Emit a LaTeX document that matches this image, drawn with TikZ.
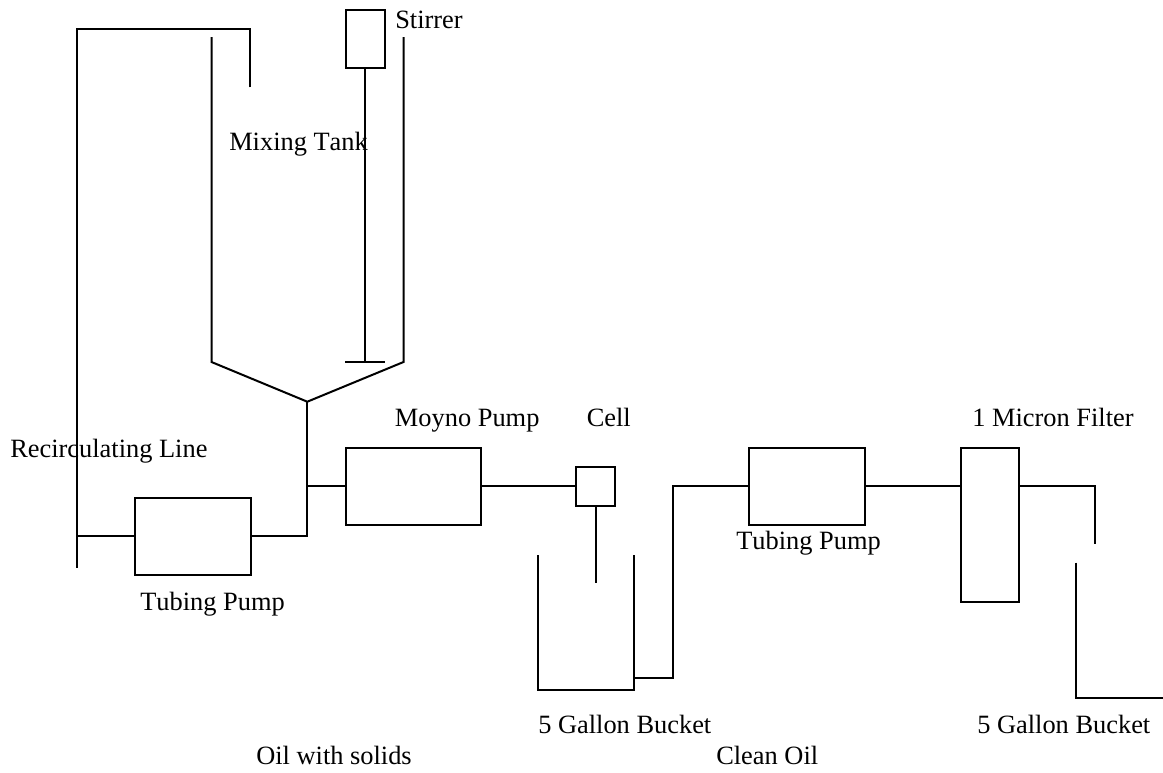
\documentclass[tikz,border=0pt]{standalone}
\usepackage{fontspec}
\setmainfont[Kerning=Off]{Liberation Serif}
\tikzset{
  pipe/.style={draw=black,line width=1.5pt,line join=miter},
  unit/.style={draw=black,line width=1.5pt,inner sep=0pt,outer sep=0pt},
  lbl/.style={font=\fontsize{19.8}{22}\selectfont,inner sep=0pt,text=black,anchor=base west}
}
\begin{document}
% coordinates are reference pixels, y measured from the top
\begin{tikzpicture}[x=0.75pt,y=-0.75pt]
\useasboundingbox (0,0) rectangle (1163,772);
% units
\node[unit,minimum width=29.5pt,minimum height=43.7pt] (motor) at (365.3,39.2) {};
\node[unit,minimum width=87pt,minimum height=57.75pt] (tp1) at (192.6,536.3) {};
\node[unit,minimum width=101.6pt,minimum height=57.75pt] (moyno) at (413.5,486.4) {};
\node[unit,minimum width=29pt,minimum height=29pt] (cell) at (595.6,486.4) {};
\node[unit,minimum width=87pt,minimum height=57.75pt] (tp2) at (807.2,486.4) {};
\node[unit,minimum width=43.5pt,minimum height=115.3pt] (filter) at (989.5,525) {};
% free ends and corners
\coordinate (tankL) at (211.5,37);
\coordinate (tankLb) at (211.5,362);
\coordinate (tankR) at (403.5,37);
\coordinate (tankRb) at (403.5,362);
\coordinate (apex) at (307.3,401.7);
\coordinate (junca) at (307.3,536.3);
\coordinate (juncb) at (307.3,486.4);
\coordinate (shaftEnd) at (365.3,362);
\coordinate (barL) at (345,362);
\coordinate (barR) at (385,362);
\coordinate (rT) at (250,87.3);
\coordinate (rTop) at (250,29.3);
\coordinate (lTop) at (77.3,29.3);
\coordinate (lBot) at (77.3,567.5);
\coordinate (lMid) at (77.3,536.3);
\coordinate (cellEnd) at (595.6,582.5);
\coordinate (bTL) at (538.4,555);
\coordinate (bBL) at (538.4,690);
\coordinate (bBR) at (634.3,690);
\coordinate (bTR) at (634.3,555);
\coordinate (oa) at (634.3,678.3);
\coordinate (ob) at (672.6,678.3);
\coordinate (oc) at (672.6,486.4);
\coordinate (fa) at (1095,486.4);
\coordinate (fb) at (1095,544);
\coordinate (sa) at (1075.7,562.7);
\coordinate (sb) at (1075.7,697.7);
\coordinate (sc) at (1163,697.7);
% tank
\draw[pipe] (tankL) -- (tankLb) -- (apex) -- (tankRb) -- (tankR);
\draw[pipe] (motor.south) -- (shaftEnd);
\draw[pipe] (barL) -- (barR);
% recirculating line
\draw[pipe] (rT) -- (rTop) -- (lTop) -- (lBot);
\draw[pipe] (lMid) -- (tp1.west);
\draw[pipe] (tp1.east) -- (junca) -- (apex);
\draw[pipe] (juncb) -- (moyno.west);
\draw[pipe] (moyno.east) -- (cell.west);
\draw[pipe] (cell.south) -- (cellEnd);
% bucket
\draw[pipe] (bTL) -- (bBL) -- (bBR) -- (bTR);
\draw[pipe] (oa) -- (ob) -- (oc) -- (tp2.west);
\draw[pipe] (tp2.east) -- (filter.west |- tp2.east);
\draw[pipe] (filter.east |- fa) -- (fa) -- (fb);
\draw[pipe] (sa) -- (sb) -- (sc);
% labels
\node[lbl] (t1) at (395,28) {Stirrer};
\node[lbl] (t2) at (229,150) {Mixing Tank};
\node[lbl] (t3) at (394.7,426) {Moyno Pump};
\node[lbl] (t4) at (586.5,426) {Cell};
\node[lbl] (t5) at (972,426) {1 Micron Filter};
\node[lbl] (t6) at (10,457) {Recirculating Line};
\node[lbl] (t7) at (736,549) {Tubing Pump};
\node[lbl] (t8) at (140,610) {Tubing Pump};
\node[lbl] (t9) at (538,733) {5 Gallon Bucket};
\node[lbl] (t10) at (977,733) {5 Gallon Bucket};
\node[lbl] (t11) at (256,764) {Oil with solids};
\node[lbl] (t12) at (716,764) {Clean Oil};
\end{tikzpicture}
\end{document}
